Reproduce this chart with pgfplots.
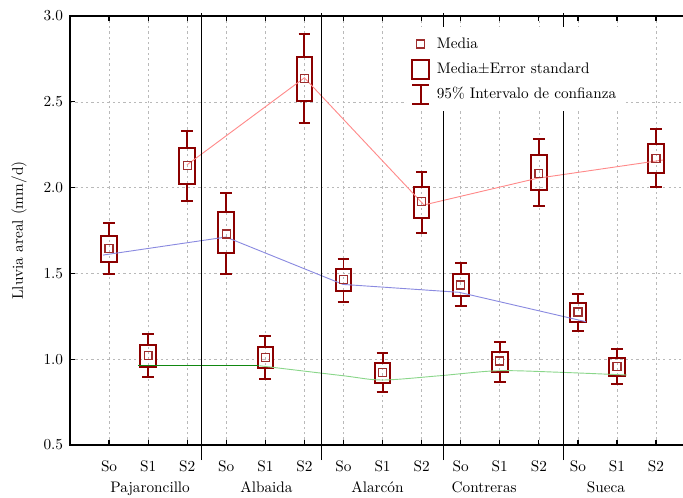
\documentclass[border=0pt]{standalone}
\usepackage{pgfplots}
\pgfplotsset{compat=1.18}
\usepgfplotslibrary{statistics}
\definecolor{caja}{HTML}{8B0000}
\definecolor{media}{HTML}{9E2E2E}
\definecolor{lrojo}{HTML}{FF8A8A}
\definecolor{lazul}{HTML}{8A8AE0}
\definecolor{lverde}{HTML}{8AD68A}
\definecolor{verde}{HTML}{118811}

% box = media +/- error standard, whiskers = IC 95%
\pgfplotsset{
  caja/.style={boxplot prepared={draw direction=y, #1, box extend=0.4, whisker extend=0.3},
    boxplot/draw/median/.code={}, draw=caja, line width=1.3pt, forget plot},
}

\begin{document}
\begin{tikzpicture}
\begin{axis}[
  x=25.59pt, y=112.4pt,
  xmin=0, xmax=16, ymin=0.5, ymax=3.0,
  clip=false,
  xtick={1,...,15},
  xticklabels={So,S1,S2,So,S1,S2,So,S1,S2,So,S1,S2,So,S1,S2},
  ytick={0.5,1.0,...,3.0},
  yticklabel style={/pgf/number format/fixed, /pgf/number format/fixed zerofill,
    /pgf/number format/precision=1, xshift=-1pt},
  xticklabel style={yshift=-6.5pt},
  tick align=inside, major tick length=3pt,
  tick style={black, line width=0.8pt},
  axis line style={line width=1.2pt},
  grid=major,
  grid style={gray!55, line width=0.4pt, dash pattern=on 1.5pt off 2pt},
  ylabel={Lluvia areal (mm/d)},
  ylabel style={at={([xshift=-33.4pt]axis description cs:0,0.5)}, anchor=center},
  legend cell align=left,
  legend style={draw=none, fill=white, at={(0.5391,0.9744)}, anchor=north west,
    inner xsep=2.5pt, inner ysep=4pt, row sep=2.4pt,
    /tikz/every odd column/.append style={column sep=2.5pt}},
]
\addlegendimage{legend image code/.code={
  \path[draw=none] (0pt,-7pt) rectangle (11pt,7pt);
  \draw[media, line width=0.85pt] (2.9pt,-2.6pt) rectangle (8.1pt,2.6pt);}}
\addlegendentry{Media}
\addlegendimage{legend image code/.code={
  \path[draw=none] (0pt,-7pt) rectangle (11pt,7pt);
  \draw[caja, line width=1.3pt] (0pt,-6.3pt) rectangle (11pt,6.3pt);}}
\addlegendentry{Media$\pm$Error standard}
\addlegendimage{legend image code/.code={
  \path[draw=none] (0pt,-7pt) rectangle (11pt,7pt);
  \draw[caja, line width=1.3pt] (5.5pt,-6.3pt) -- (5.5pt,6.3pt)
    (0pt,6.3pt) -- (11pt,6.3pt) (0pt,-6.3pt) -- (11pt,-6.3pt);}}
\addlegendentry{95\% Intervalo de confianza}

% Pajaroncillo
\addplot[caja={draw position=1, lower whisker=1.497, lower quartile=1.568, median=1.645, upper quartile=1.720, upper whisker=1.792}] coordinates {};
\addplot[caja={draw position=2, lower whisker=0.898, lower quartile=0.956, median=1.020, upper quartile=1.083, upper whisker=1.147}] coordinates {};
\addplot[caja={draw position=3, lower whisker=1.922, lower quartile=2.023, median=2.128, upper quartile=2.233, upper whisker=2.332}] coordinates {};
% Albaida
\addplot[caja={draw position=4, lower whisker=1.497, lower quartile=1.617, median=1.730, upper quartile=1.856, upper whisker=1.970}] coordinates {};
\addplot[caja={draw position=5, lower whisker=0.885, lower quartile=0.947, median=1.009, upper quartile=1.073, upper whisker=1.135}] coordinates {};
\addplot[caja={draw position=6, lower whisker=2.375, lower quartile=2.505, median=2.635, upper quartile=2.763, upper whisker=2.893}] coordinates {};
% Alarcon
\addplot[caja={draw position=7, lower whisker=1.335, lower quartile=1.397, median=1.466, upper quartile=1.524, upper whisker=1.584}] coordinates {};
\addplot[caja={draw position=8, lower whisker=0.807, lower quartile=0.863, median=0.921, upper quartile=0.980, upper whisker=1.034}] coordinates {};
\addplot[caja={draw position=9, lower whisker=1.737, lower quartile=1.825, median=1.918, upper quartile=2.005, upper whisker=2.093}] coordinates {};
% Contreras
\addplot[caja={draw position=10, lower whisker=1.310, lower quartile=1.370, median=1.432, upper quartile=1.497, upper whisker=1.559}] coordinates {};
\addplot[caja={draw position=11, lower whisker=0.867, lower quartile=0.925, median=0.990, upper quartile=1.044, upper whisker=1.102}] coordinates {};
\addplot[caja={draw position=12, lower whisker=1.893, lower quartile=1.986, median=2.083, upper quartile=2.188, upper whisker=2.281}] coordinates {};
% Sueca
\addplot[caja={draw position=13, lower whisker=1.164, lower quartile=1.215, median=1.275, upper quartile=1.329, upper whisker=1.380}] coordinates {};
\addplot[caja={draw position=14, lower whisker=0.854, lower quartile=0.902, median=0.956, upper quartile=1.007, upper whisker=1.059}] coordinates {};
\addplot[caja={draw position=15, lower whisker=2.002, lower quartile=2.083, median=2.171, upper quartile=2.254, upper whisker=2.340}] coordinates {};

% lineas So / S1 / S2
\addplot[lazul, line width=0.6pt, forget plot] coordinates {(0.845,1.607) (3.99,1.712) (6.99,1.436) (9.96,1.390) (13.2,1.219)};
\addplot[lrojo, line width=0.6pt, forget plot] coordinates {(2.99,2.132) (6.0,2.640) (9.06,1.899) (11.95,2.054) (15.18,2.161)};
\addplot[verde, line width=0.8pt, forget plot] coordinates {(1.75,0.962) (4.85,0.962)};
\addplot[lverde, line width=0.6pt, smooth, forget plot] coordinates {(4.85,0.962) (6.99,0.904) (7.99,0.879) (9.47,0.904) (10.95,0.933) (12.54,0.924) (14.25,0.908)};

% medias
\addplot[only marks, mark=square, mark size=2.6pt, mark options={draw=media, line width=0.85pt}, forget plot]
  coordinates {(1,1.645) (2,1.020) (3,2.128) (4,1.730) (5,1.009) (6,2.635) (7,1.466) (8,0.921)
    (9,1.918) (10,1.432) (11,0.990) (12,2.083) (13,1.275) (14,0.956) (15,2.171)};

\pgfplotsinvokeforeach{3.36,6.43,9.57,12.64}{
  \draw[black, line width=0.6pt] ([yshift=-9.8pt]axis cs:#1,0.5) -- ([yshift=2pt]axis cs:#1,3.0);
}
\node[anchor=base] at ([yshift=-30.8pt]axis cs:2.05,0.5) {Pajaroncillo};
\node[anchor=base] at ([yshift=-30.8pt]axis cs:5.03,0.5) {Albaida};
\node[anchor=base] at ([yshift=-30.8pt]axis cs:7.87,0.5) {Alarcón};
\node[anchor=base] at ([yshift=-30.8pt]axis cs:10.6,0.5) {Contreras};
\node[anchor=base] at ([yshift=-30.8pt]axis cs:13.72,0.5) {Sueca};
\coordinate (O) at (axis cs:0,0.5);
\end{axis}
\pgfresetboundingbox
\useasboundingbox ([shift={(-45.85pt,-34.06pt)}]O) rectangle ([shift={(401.5pt,291.5pt)}]O);
\end{tikzpicture}
\end{document}
